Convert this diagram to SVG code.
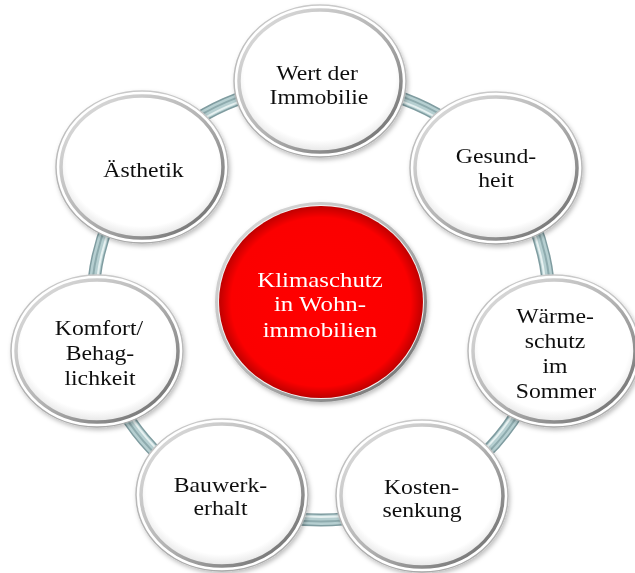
<svg xmlns="http://www.w3.org/2000/svg" width="635" height="573" viewBox="0 0 635 573">
  <defs>
    <linearGradient id="ringGrad" x1="0" y1="0" x2="1" y2="1">
      <stop offset="0" stop-color="#e2e2e2"/>
      <stop offset="0.5" stop-color="#b4b4b4"/>
      <stop offset="1" stop-color="#666666"/>
    </linearGradient>
    <linearGradient id="outerGrad" x1="0" y1="0" x2="0" y2="1">
      <stop offset="0" stop-color="#c9c9c9"/>
      <stop offset="1" stop-color="#a9a9a9"/>
    </linearGradient>
    <radialGradient id="redFill" cx="0.5" cy="0.5" r="0.5">
      <stop offset="0" stop-color="#ff0000"/>
      <stop offset="0.88" stop-color="#fb0000"/>
      <stop offset="1" stop-color="#bf0000"/>
    </radialGradient>
    <radialGradient id="innerShade" cx="0.5" cy="0.45" r="0.55">
      <stop offset="0" stop-color="#ffffff"/>
      <stop offset="0.85" stop-color="#ffffff"/>
      <stop offset="1" stop-color="#e6e6e6"/>
    </radialGradient>
    <filter id="shadow" x="-20%" y="-20%" width="140%" height="140%">
      <feDropShadow dx="1.5" dy="2.5" stdDeviation="2" flood-color="#000" flood-opacity="0.25"/>
    </filter>
  </defs>
  <style>
    .pipe1{fill:none;stroke:#7f9ca0;stroke-width:13}
    .pipe2{fill:none;stroke:#b6cfd1;stroke-width:10}
    .pipe3{fill:none;stroke:#8eabae;stroke-width:2}
    .pipe4{fill:none;stroke:#e6f1f1;stroke-width:2;}
    .outer{fill:#ffffff;stroke:url(#outerGrad);stroke-width:1.5}
    .inner{fill:url(#innerShade);stroke:url(#ringGrad);stroke-width:3.5}
    .t{font-family:"Liberation Serif","Times New Roman",serif;font-size:21px;fill:#111;text-anchor:middle}
    .tc{font-family:"Liberation Serif","Times New Roman",serif;font-size:22px;fill:#ffffff;text-anchor:middle}
  </style>
  <rect width="635" height="573" fill="#ffffff"/>

  <g id="connectors">
    <ellipse class="pipe1" cx="321" cy="302" rx="228" ry="218"/>
    <ellipse class="pipe2" cx="321" cy="302" rx="228" ry="218"/>
    <ellipse class="pipe4" cx="321" cy="302" rx="225" ry="215"/>
    <ellipse class="pipe3" cx="321" cy="302" rx="229.5" ry="219.5"/>
  </g>

  <g id="center" filter="url(#shadow)">
    <ellipse cx="321" cy="302" rx="106" ry="100" fill="url(#ringGrad)"/>
    <ellipse cx="321" cy="302" rx="103" ry="97" fill="#f4f4f4"/>
    <ellipse cx="321" cy="302" rx="102" ry="96" fill="url(#redFill)"/>
    <text class="tc" transform="translate(320,287) scale(1.13,1)">Klimaschutz</text>
    <text class="tc" transform="translate(320,311) scale(1.13,1)">in Wohn-</text>
    <text class="tc" transform="translate(320,336.5) scale(1.13,1)">immobilien</text>
  </g>

  <g id="node-wert" filter="url(#shadow)">
    <ellipse class="outer" cx="320" cy="81" rx="86" ry="76"/>
    <ellipse class="inner" cx="320" cy="81" rx="81" ry="71"/>
    <text class="t" transform="translate(317,80) scale(1.13,1)">Wert der</text>
    <text class="t" transform="translate(319,103.5) scale(1.13,1)">Immobilie</text>
  </g>

  <g id="node-gesundheit" filter="url(#shadow)">
    <ellipse class="outer" cx="496" cy="168" rx="86" ry="76"/>
    <ellipse class="inner" cx="496" cy="168" rx="81" ry="71"/>
    <text class="t" transform="translate(496,163) scale(1.13,1)">Gesund-</text>
    <text class="t" transform="translate(496,187) scale(1.13,1)">heit</text>
  </g>

  <g id="node-waermeschutz" filter="url(#shadow)">
    <ellipse class="outer" cx="554" cy="351" rx="86" ry="76"/>
    <ellipse class="inner" cx="554" cy="351" rx="81" ry="71"/>
    <text class="t" transform="translate(555,323) scale(1.13,1)">Wärme-</text>
    <text class="t" transform="translate(555,347.5) scale(1.13,1)">schutz</text>
    <text class="t" transform="translate(555,373) scale(1.13,1)">im</text>
    <text class="t" transform="translate(556,398) scale(1.13,1)">Sommer</text>
  </g>

  <g id="node-kosten" filter="url(#shadow)">
    <ellipse class="outer" cx="422" cy="496" rx="86" ry="76"/>
    <ellipse class="inner" cx="422" cy="496" rx="81" ry="71"/>
    <text class="t" transform="translate(421.5,494) scale(1.13,1)">Kosten-</text>
    <text class="t" transform="translate(422,517) scale(1.13,1)">senkung</text>
  </g>

  <g id="node-bauwerk" filter="url(#shadow)">
    <ellipse class="outer" cx="222" cy="495" rx="86" ry="76"/>
    <ellipse class="inner" cx="222" cy="495" rx="81" ry="71"/>
    <text class="t" transform="translate(220.5,492) scale(1.13,1)">Bauwerk-</text>
    <text class="t" transform="translate(220.5,515) scale(1.13,1)">erhalt</text>
  </g>

  <g id="node-komfort" filter="url(#shadow)">
    <ellipse class="outer" cx="97" cy="351" rx="86" ry="76"/>
    <ellipse class="inner" cx="97" cy="351" rx="81" ry="71"/>
    <text class="t" transform="translate(99,335) scale(1.13,1)">Komfort/</text>
    <text class="t" transform="translate(100,360) scale(1.13,1)">Behag-</text>
    <text class="t" transform="translate(100,385) scale(1.13,1)">lichkeit</text>
  </g>

  <g id="node-aesthetik" filter="url(#shadow)">
    <ellipse class="outer" cx="142" cy="167" rx="86" ry="76"/>
    <ellipse class="inner" cx="142" cy="167" rx="81" ry="71"/>
    <text class="t" transform="translate(143.5,177) scale(1.13,1)">Ästhetik</text>
  </g>
</svg>
